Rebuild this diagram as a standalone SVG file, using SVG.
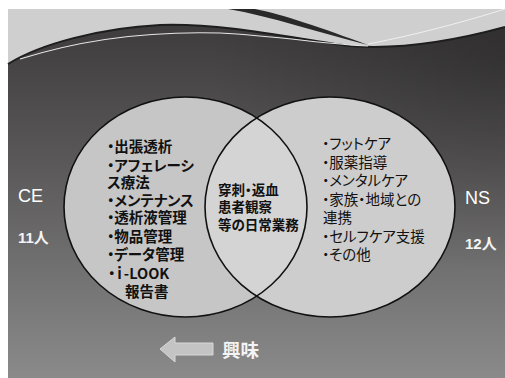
<svg xmlns="http://www.w3.org/2000/svg" width="505" height="378" viewBox="0 0 505 378">
<defs>
<linearGradient id="bg" x1="0" y1="0" x2="0" y2="1">
<stop offset="0" stop-color="#3e3c3c"/>
<stop offset="0.35" stop-color="#575555"/>
<stop offset="1" stop-color="#8a8a8a"/>
</linearGradient>
<radialGradient id="shade" cx="1" cy="0.1" r="0.6">
<stop offset="0" stop-color="#000" stop-opacity="0.25"/>
<stop offset="1" stop-color="#000" stop-opacity="0"/>
</radialGradient>
<clipPath id="leftClip"><ellipse cx="185.5" cy="207" rx="121.5" ry="110"/></clipPath>
</defs>
<style>
.jp{font-family:"Noto Sans CJK JP","Noto Sans",sans-serif;font-feature-settings:"palt";fill:#111}
.b{font-weight:bold}
.lat{font-family:"Liberation Sans",Arial,sans-serif;fill:#fff}
.w{font-family:"Liberation Sans","Noto Sans CJK JP",sans-serif;fill:#f4f4f4;font-feature-settings:"palt"}
.ring{fill:none;stroke:#111;stroke-width:1.6}
</style>
<rect x="0" y="0" width="505" height="378" fill="#ffffff"/>
<g id="background">
<rect x="8" y="9" width="497" height="369" fill="#cfcfcf"/>
<path d="M8,64 C40,44 100,28 160,25 C230,23 300,40 350,46 C400,50 450,42 505,27 L505,378 L8,378 Z" fill="url(#bg)"/>
<path d="M8,64 C40,44 100,28 160,25 C230,23 300,40 350,46 C400,50 450,42 505,27 L505,378 L8,378 Z" fill="url(#shade)"/>
<path d="M8,64 C40,44 100,28 160,25 C230,23 300,40 350,46 C400,50 450,42 505,27" fill="none" stroke="#1e1e1e" stroke-width="2"/>
<path d="M228,9 C270,16 320,33 368,45 C322,28 285,15 255,9 Z" fill="#2a2a2a"/>
<path d="M20,59 C80,40 150,31 220,33 C280,36 330,45 368,46" fill="none" stroke="#e6e6e6" stroke-width="1.1"/>
<path d="M368,44 C420,34 470,20 505,9" fill="none" stroke="#f0f0f0" stroke-width="1"/>
</g>
<g id="node-ce">
<ellipse cx="185.5" cy="207" rx="121.5" ry="110" fill="#c6c6c6"/>
</g>
<g id="node-ns">
<ellipse cx="330" cy="207" rx="125" ry="110" fill="#cdcdcd"/>
</g>
<g id="node-common">
<ellipse cx="330" cy="207" rx="125" ry="110" fill="#d4d4d4" clip-path="url(#leftClip)"/>
</g>
<g id="outlines">
<ellipse class="ring" cx="185.5" cy="207" rx="121.5" ry="110"/>
<ellipse class="ring" cx="330" cy="207" rx="125" ry="110"/>
</g>
<g id="text-ce" class="jp b" font-size="14.5">
<text x="107" y="152.4">・出張透析</text>
<text x="107" y="170.7">・アフェレーシ</text>
<text x="107" y="188.4">ス療法</text>
<text x="107" y="205.7">・メンテナンス</text>
<text x="107" y="222.7">・透析液管理</text>
<text x="107" y="241.7">・物品管理</text>
<text x="107" y="259.7">・データ管理</text>
<text x="108" y="278.7">・ｉ-LOOK</text>
<text x="125" y="296.7">報告書</text>
</g>
<g id="text-common" class="jp b" font-size="13.5">
<text x="218" y="195">穿刺・返血</text>
<text x="218" y="212">患者観察</text>
<text x="218" y="230">等の日常業務</text>
</g>
<g id="text-ns" class="jp" font-size="14.5">
<text x="322" y="148.5">・フットケア</text>
<text x="322" y="167.5">・服薬指導</text>
<text x="322" y="185.5">・メンタルケア</text>
<text x="322" y="204.5">・家族・地域との</text>
<text x="323" y="222.5">連携</text>
<text x="322" y="241.5">・セルフケア支援</text>
<text x="322" y="259.5">・その他</text>
</g>
<g id="label-ce">
<text class="lat" x="18" y="201.5" font-size="18">CE</text>
<text class="w" x="18" y="242.5" font-size="15" font-weight="bold">11人</text>
</g>
<g id="label-ns">
<text class="lat" x="465" y="203.5" font-size="18">NS</text>
<text class="w" x="465" y="248.5" font-size="15" font-weight="bold">12人</text>
</g>
<g id="connectors">
<path d="M160,349 L175,337 L175,343 L213,343 L213,355 L175,355 L175,362 Z" fill="#c4c4c4" stroke="#d8d8d8" stroke-width="1"/>
</g>
<g id="label-interest">
<text class="w" x="222" y="357" font-size="18.5" font-weight="bold">興味</text>
</g>
</svg>
